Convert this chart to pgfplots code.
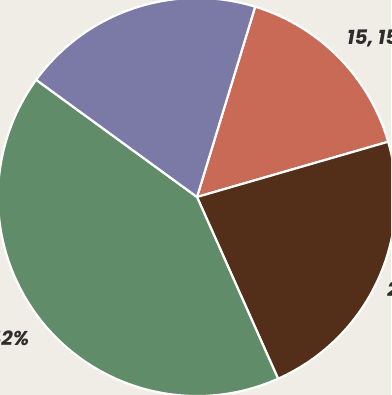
\documentclass[border=0pt]{standalone}
\usepackage{pgfplots}
\pgfplotsset{compat=1.18}
\usepackage{fontspec}
\setmainfont{Poppins}
\definecolor{bg}{RGB}{239,237,230}
\definecolor{cPurple}{RGB}{123,122,166}
\definecolor{cRed}{RGB}{201,106,86}
\definecolor{cBrown}{RGB}{83,46,25}
\definecolor{cGreen}{RGB}{97,140,105}
\definecolor{txt}{RGB}{45,45,45}
\def\R{199}
\begin{document}
\begin{tikzpicture}
\begin{axis}[hide axis, x=1pt, y=1pt, disabledatascaling,
  xmin=-197, xmax=194, ymin=-198, ymax=197, clip=true, clip mode=global]
\fill[bg] (axis cs:-197,-198) rectangle (axis cs:194,197);
\pgfplotsextra{%
  \def\cur{73}%
  \foreach \v/\c/\l/\da/\rf in {15.8/cRed/{15, 15\%}/1.6/1.087, 22.8/cBrown/{23, 23\%}/-1.8/1.07, 41.7/cGreen/{42, 42\%}/1.8/1.113, 19.7/cPurple/{20, 20\%}/0/1.09} {%
    \pgfmathsetmacro\delta{3.6*\v}%
    \pgfmathsetmacro\endang{\cur-\delta}%
    \pgfmathsetmacro\midang{\cur-\delta/2+\da}%
    \fill[\c, draw=white, line width=2.2pt, line join=round]
      (axis cs:0,0) -- (axis cs:{\R*cos(\cur)},{\R*sin(\cur)})
      arc[start angle=\cur, end angle=\endang, radius=\R pt] -- cycle;
    \pgfmathsetmacro\lx{\rf*\R*cos(\midang)}%
    \pgfmathsetmacro\ly{\rf*\R*sin(\midang)}%
    \pgfmathsetmacro\side{cos(\midang)>0 ? 1 : 0}%
    \ifdim\side pt>0.5pt
      \node[anchor=west, text=txt, font=\bfseries\itshape\fontsize{20}{20}\selectfont, inner sep=0pt, text height=0.72em, text depth=0pt] at (axis cs:\lx,\ly) {\l};
    \else
      \node[anchor=east, text=txt, font=\bfseries\itshape\fontsize{20}{20}\selectfont, inner sep=0pt, text height=0.72em, text depth=0pt] at (axis cs:\lx,\ly) {\l};
    \fi
    \xdef\cur{\endang}%
  }%
}
\end{axis}
\pgfresetboundingbox
\path (current axis.south west) rectangle (current axis.north east);
\end{tikzpicture}
\end{document}
